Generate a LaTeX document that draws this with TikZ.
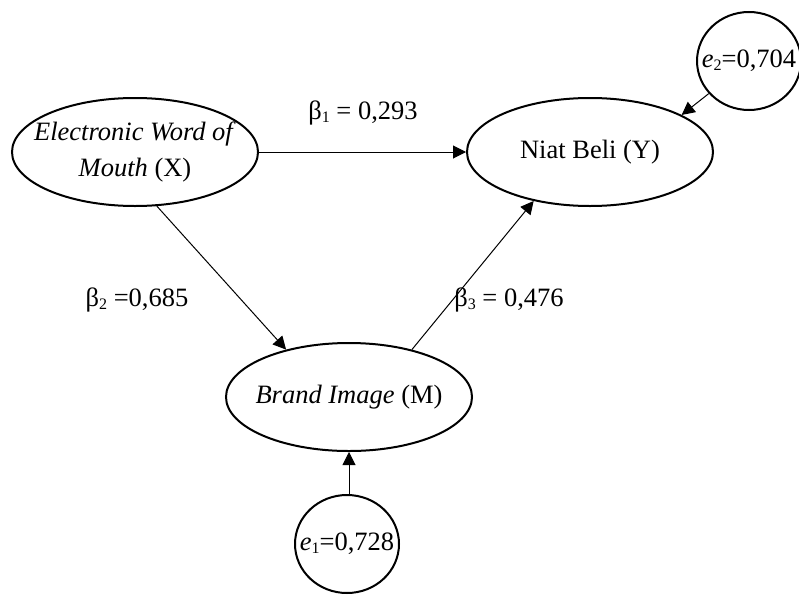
\documentclass[tikz,border=0pt]{standalone}
\usepackage{fontspec}
\setmainfont{Liberation Serif}
\usetikzlibrary{shapes.geometric,arrows.meta}
\newcommand{\mysub}[1]{\raisebox{-0.12em}{\fontsize{16}{16}\selectfont #1}}
\begin{document}
\begin{tikzpicture}[x=1pt,y=-1pt,
  every node/.style={font=\fontsize{26.5}{36}\selectfont},
  var/.style={ellipse,draw,line width=2pt,inner sep=0pt,minimum width=246pt,minimum height=108pt},
  err/.style={ellipse,draw,line width=2pt,inner sep=0pt,minimum width=104pt,minimum height=98pt},
  conn/.style={line width=1pt,-{Triangle[length=13pt,width=13pt]}},
  coef/.style={inner sep=0pt}]
\useasboundingbox (0,0) rectangle (799,594);
\node[var] (X) at (135,152) {};
\node[align=center,inner sep=0pt] (Xt) at (X) {\textit{Electronic Word of}\\\textit{Mouth} (X)};
\node[var] (Y) at (590,152) {};
\node[inner sep=0pt] (Yt) at (Y) {Niat Beli (Y)};
\node[var] (M) at (349,397) {};
\node[inner sep=0pt] (Mt) at (M) {\textit{Brand Image} (M)};
\node[err] (e2) at (749,61) {};
\node[inner sep=0pt] (e2t) at (e2) {\textit{e}\mysub{2}=0,704};
\node[err] (e1) at (347,544) {};
\node[inner sep=0pt] (e1t) at (e1) {\textit{e}\mysub{1}=0,728};
\draw[conn] (X.east) -- (Y.west);
\draw[conn] (X.-68.5) -- (M.143.4);
\draw[conn] (M.37.4) -- (Y.221.3);
\draw[conn] (e2.219.7) -- (Y.22);
\draw[conn] (e1.north -| M.south) -- (M.south);
\node[coef] (b1) at (363,113) {β\mysub{1} = 0,293};
\node[coef] (b2) at (137,300) {β\mysub{2} =0,685};
\node[coef] (b3) at (509,300) {β\mysub{3} = 0,476};
\end{tikzpicture}
\end{document}
